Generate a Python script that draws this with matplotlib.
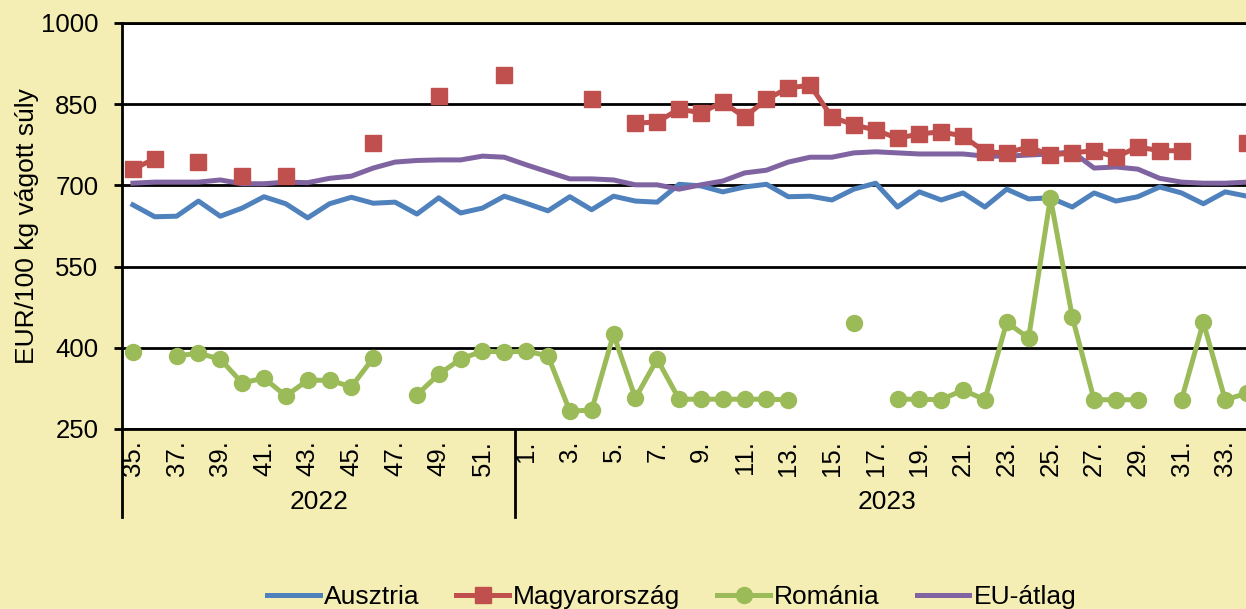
# weekly carcass prices, EUR/100 kg, week 35 of 2022 to week 34 of 2023

# imports
import numpy as np
import matplotlib
matplotlib.use('Agg')
import matplotlib.pyplot as plt
import matplotlib.transforms as mtransforms

nan = np.nan

# week labels, grouped by year
weeks_2022 = list(range(35, 53))
weeks_2023 = list(range(1, 35))
years = ['2022', '2023']

# prices per week
ausztria = [664, 642, 643, 671, 643, 658, 679, 666, 640, 666, 678, 667, 669, 647, 677, 649, 658, 680,
            667, 653, 679, 655, 680, 671, 669, 702, 699, 688, 697, 702, 679, 680, 673, 693, 704, 660,
            688, 673, 686, 660, 693, 675, 677, 660, 686, 671, 679, 697, 686, 666, 688, 680]

magyarorszag = [730, 749, nan, 743, nan, 717, nan, 717, nan, nan, nan, 778, nan, nan, 865, nan, nan, 904,
                nan, nan, nan, 860, nan, 815, 817, 841, 834, 854, 826, 859, 880, 885, 826, 812, 802, 787,
                795, 799, 791, 762, 760, 771, 756, 760, 764, 752, 771, 764, 764, nan, nan, 778]

romania = [392, nan, 385, 390, 379, 335, 344, 311, 340, 340, 328, 381, nan, 313, 351, 379, 394, 392,
           394, 385, 283, 285, 425, 307, 379, 305, 305, 305, 305, 305, 304, nan, nan, 446, nan, 305,
           305, 304, 322, 304, 447, 418, 677, 457, 304, 304, 304, nan, 304, 447, 304, 316]

eu_atlag = [704, 706, 706, 706, 710, 703, 703, 706, 705, 713, 717, 732, 743, 746, 747, 747, 754, 752,
            738, 725, 712, 712, 710, 701, 701, 693, 701, 708, 723, 728, 743, 752, 752, 760, 762, 760,
            758, 758, 758, 754, 754, 756, 758, 762, 732, 734, 730, 713, 706, 704, 704, 706]

week_labels = [f'{w}.' for w in weeks_2022 + weeks_2023]
x = np.arange(len(week_labels))

plt.rcParams['font.family'] = ['Liberation Sans', 'DejaVu Sans']

bg = '#F4EEB4'
fig = plt.figure(figsize=(12.46, 6.09), dpi=100, facecolor=bg)
# the plot area runs a little past the right edge of the picture
ax = fig.add_axes([0.0979, 0.2956, 0.9117, 0.6667])
ax.set_facecolor('white')

lw = 3.6
ax.plot(x, ausztria, color='#4F81BD', lw=lw, solid_joinstyle='round', label='Ausztria', zorder=3)
ax.plot(x, magyarorszag, color='#C0504D', lw=lw, marker='s', ms=11.5, solid_joinstyle='round',
        label='Magyarország', zorder=4)
ax.plot(x, romania, color='#9BBB59', lw=lw, marker='o', ms=11.5, solid_joinstyle='round',
        label='Románia', zorder=5)
ax.plot(x, eu_atlag, color='#8064A2', lw=lw, solid_joinstyle='round', label='EU-átlag', zorder=3)

# y axis
ax.set_ylim(250, 1000)
ax.set_yticks([250, 400, 550, 700, 850, 1000])
ax.tick_params(axis='y', labelsize=18.5, length=6, width=2, pad=11, direction='out')
ax.yaxis.grid(True, color='black', lw=2)
ax.set_axisbelow(True)
ax.set_ylabel('EUR/100 kg vágott súly', fontsize=19)
ax.yaxis.set_label_coords(-0.073, 0.5)

# x axis: every other week labelled
ax.set_xlim(-0.5, len(x) - 0.5)
ax.set_xticks(x[::2])
ax.set_xticklabels(week_labels[::2], rotation=90, fontsize=18.5)
ax.tick_params(axis='x', length=0, pad=8)

for side in ['left', 'bottom', 'top']:
    ax.spines[side].set_color('black')
    ax.spines[side].set_linewidth(2)
ax.spines['right'].set_visible(False)

# year groups under the week labels
trans = mtransforms.blended_transform_factory(ax.transData, ax.transAxes)
n22 = len(weeks_2022)
for xb in [-0.5, n22 - 0.5]:
    ax.plot([xb, xb], [0, -0.217], color='black', lw=2, transform=trans, clip_on=False)
ax.text((n22 - 1) / 2, -0.18, years[0], transform=trans, ha='center', va='center', fontsize=19)
ax.text((n22 - 0.5 + len(x) - 0.5) / 2, -0.18, years[1], transform=trans, ha='center', va='center',
        fontsize=19)

# legend along the bottom
fig.legend(loc='center', bbox_to_anchor=(0.539, 0.019), ncol=4, frameon=False, fontsize=19,
           handlelength=2.0, handletextpad=0.15, columnspacing=1.4, borderpad=0)

fig.savefig('out.png', dpi=100, facecolor=bg)
